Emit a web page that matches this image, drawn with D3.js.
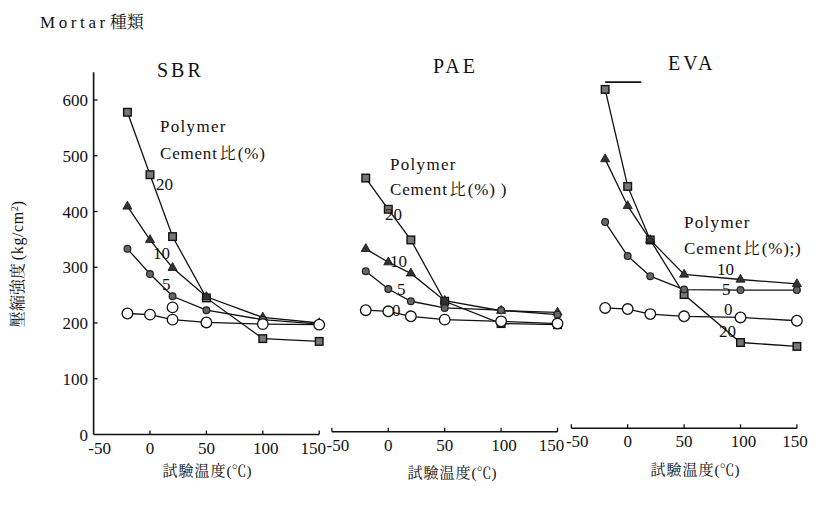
<!DOCTYPE html>
<html>
<head>
<meta charset="utf-8">
<script src="https://cdn.jsdelivr.net/npm/d3@7/dist/d3.min.js"></script>
<style>
  html, body { margin: 0; padding: 0; background: #fff; }
  svg { display: block; }
  text { fill: #111; }
</style>
</head>
<body>
<svg id="chart" width="819" height="505"></svg>
<script>
// ---------------- data ----------------
const panels = ["SBR", "PAE", "EVA"];
const temps = [-20, 0, 20, 50, 100, 150];          // 試験温度 (°C)
const ratios = ["20", "10", "5", "0"];               // Polymer/Cement比 (%)
const xTicks = [-50, 0, 50, 100, 150];
const yTicks = [0, 100, 200, 300, 400, 500, 600];

const sbr20 = [578, 466, 355, 245, 172, 167];
const sbr10 = [409, 349, 299, 247, 210, 200];
const sbr5  = [333, 288, 248, 223, 206, 198];
const sbr0  = [217, 215, 206, 201, 198, 197];
const sbrExtraOpen = [{t: 20, v: 228}];   // isolated open circle in SBR panel

const pae20 = [460, 404, 349, 239, 199, 197];
const pae10 = [333, 309, 289, 240, 222, 219];
const pae5  = [293, 261, 239, 227, 223, 215];
const pae0  = [223, 221, 212, 206, 203, 199];

const eva20 = [619, 445, 349, 251, 165, 158];
const eva10 = [494, 410, 349, 287, 278, 270];
const eva5  = [381, 320, 284, 260, 259, 259];
const eva0  = [227, 225, 216, 212, 210, 204];
const evaStrayLine = [{t: -20, v: 632}, {t: 12, v: 632}];

const seriesByPanel = {
  SBR: {"20": sbr20, "10": sbr10, "5": sbr5, "0": sbr0},
  PAE: {"20": pae20, "10": pae10, "5": pae5, "0": pae0},
  EVA: {"20": eva20, "10": eva10, "5": eva5, "0": eva0}
};
const legendTitle1 = "Polymer";
const legendTitle2 = {SBR: "(%)", PAE: "(%) )", EVA: "(%);)"};

// ---------------- layout ----------------
const svg = d3.select("#chart");
const SERIF = '"Liberation Serif"';
const CJK = '"Noto Serif CJK JP"';
const y = d3.scaleLinear().domain([0, 600]).range([434.5, 100]);
const zeroX = {SBR: 150, PAE: 388.3, EVA: 627.7};
const pxPerDeg = 1.128;
const xScales = {};
panels.forEach(p => {
  xScales[p] = d3.scaleLinear().domain([-50, 150])
    .range([zeroX[p] - 50 * pxPerDeg, zeroX[p] + 150 * pxPerDeg]);
});
const axisDy = {SBR: 0, PAE: -2.8, EVA: -6.2};
const titlePos = {SBR: [157, 77], PAE: [433, 73], EVA: [668, 70]};
const xTitlePos = {SBR: [207, 476], PAE: [452, 478], EVA: [695, 475]};

const labelPos = {
  SBR: {"20": [156, 190], "10": [153, 259], "5": [162, 290]},
  PAE: {"20": [385, 220], "10": [390, 267], "5": [397, 295], "0": [392, 316]},
  EVA: {"10": [717, 275], "5": [722, 295], "0": [724, 315], "20": [719, 337]}
};
const legendPos = {SBR: [160, 132, 159], PAE: [390, 170, 195], EVA: [684, 228, 254]};

const serifText = sel => sel.style("font-family", SERIF);
const cjkText = sel => sel.style("font-family", CJK);

// ---------------- header texts ----------------
const head = svg.append("text").attr("x", 40).attr("y", 27.5).style("font-size", "17px");
serifText(head.append("tspan").text("Mortar").attr("letter-spacing", "3.6"));
cjkText(head.append("tspan").attr("dx", 1).style("font-size", "17px").text("種類"));

// Y axis label (vertical)
const yl = svg.append("text")
  .attr("transform", "translate(23,264) rotate(-90)")
  .attr("text-anchor", "middle")
  .style("font-size", "16px");
cjkText(yl.append("tspan").text("壓縮強度"));
serifText(yl.append("tspan").attr("dx", 3).attr("letter-spacing", "0.6").text("(kg/cm"));
serifText(yl.append("tspan").attr("baseline-shift", "super").style("font-size", "10px").text("2"));
serifText(yl.append("tspan").text(")"));

// Y axis (panel 1 only)
const yAxisX = xScales.SBR(-50);
svg.append("line").attr("x1", yAxisX).attr("x2", yAxisX)
  .attr("y1", y(0)).attr("y2", y(650))
  .attr("stroke", "#111").attr("stroke-width", 1.6);
svg.selectAll(".ytick").data(yTicks.filter(d => d > 0)).join("line")
  .attr("x1", yAxisX).attr("x2", yAxisX + 4)
  .attr("y1", d => y(d)).attr("y2", d => y(d))
  .attr("stroke", "#111").attr("stroke-width", 1.3);
serifText(svg.selectAll(".ylab").data(yTicks).join("text"))
  .attr("x", 88).attr("y", d => y(d) + 6)
  .attr("text-anchor", "end").style("font-size", "17px")
  .text(d => d);

// ---------------- panels ----------------
const lineGen = x => d3.line().x(d => x(d.t)).y(d => y(d.v));

panels.forEach(p => {
  const x = xScales[p];
  const g = svg.append("g");
  const dy = axisDy[p];
  const base = y(0) + dy;

  // x axis
  g.append("line").attr("x1", x(-50)).attr("x2", x(150))
    .attr("y1", base).attr("y2", base).attr("stroke", "#111").attr("stroke-width", 1.4);
  const tickVals = p === "SBR" ? [0, 50, 100, 150] : [-50, 0, 50, 100, 150];
  g.selectAll(".xt").data(tickVals).join("line")
    .attr("x1", d => x(d)).attr("x2", d => x(d))
    .attr("y1", base).attr("y2", base - 4)
    .attr("stroke", "#111").attr("stroke-width", 1.3);
  serifText(g.selectAll(".xl").data(xTicks).join("text"))
    .attr("x", d => x(d) + (d === -50 ? 6 : d === 150 ? (p === "EVA" ? -2 : -6) : (d === 100 ? 3 : 0)))
    .attr("y", base + 19)
    .attr("text-anchor", "middle").style("font-size", "17px")
    .text(d => d);

  // x title
  const xt = g.append("text")
    .attr("x", xTitlePos[p][0]).attr("y", xTitlePos[p][1])
    .attr("text-anchor", "middle").style("font-size", "15px");
  cjkText(xt.append("tspan").attr("letter-spacing", "1").text("試驗温度"));
  serifText(xt.append("tspan").text("("));
  cjkText(xt.append("tspan").text("℃"));
  serifText(xt.append("tspan").text(")"));

  // panel title
  serifText(g.append("text")).attr("x", titlePos[p][0]).attr("y", titlePos[p][1])
    .style("font-size", "20px").attr("letter-spacing", "3")
    .text(p);

  // series lines
  const ser = seriesByPanel[p];
  ratios.forEach(r => {
    const pts = temps.map((t, i) => ({t, v: ser[r][i]}));
    g.append("path").datum(pts)
      .attr("d", lineGen(x))
      .attr("fill", "none").attr("stroke", "#111").attr("stroke-width", 1.3);
  });
  if (p === "EVA") {
    g.append("path").datum(evaStrayLine).attr("d", lineGen(x))
      .attr("fill", "none").attr("stroke", "#111").attr("stroke-width", 1.6);
  }

  // markers
  ratios.forEach(r => {
    const pts = temps.map((t, i) => ({t, v: ser[r][i]}));
    if (r === "20") {
      g.selectAll(null).data(pts).join("rect")
        .attr("x", d => x(d.t) - 3.8).attr("y", d => y(d.v) - 3.8)
        .attr("width", 7.6).attr("height", 7.6)
        .attr("fill", "#777").attr("stroke", "#111").attr("stroke-width", 1.4);
    } else if (r === "10") {
      g.selectAll(null).data(pts).join("path")
        .attr("transform", d => `translate(${x(d.t)},${y(d.v)})`)
        .attr("d", d3.symbol(d3.symbolTriangle, 36)())
        .attr("fill", "#333").attr("stroke", "#111").attr("stroke-width", 0.8);
    } else if (r === "5") {
      g.selectAll(null).data(pts).join("circle")
        .attr("cx", d => x(d.t)).attr("cy", d => y(d.v)).attr("r", 3.4)
        .attr("fill", "#666").attr("stroke", "#222").attr("stroke-width", 1.2);
    } else {
      const all = p === "SBR" ? pts.concat(sbrExtraOpen) : pts;
      g.selectAll(null).data(all).join("circle")
        .attr("cx", d => x(d.t)).attr("cy", d => y(d.v)).attr("r", 5.3)
        .attr("fill", "#fff").attr("stroke", "#111").attr("stroke-width", 1.3);
    }
  });

  // legend captions
  const lp = legendPos[p];
  serifText(g.append("text")).attr("x", lp[0]).attr("y", lp[1])
    .style("font-size", "17px").attr("letter-spacing", "1.3").text(legendTitle1);
  const l2 = g.append("text").attr("x", lp[0]).attr("y", lp[2]).style("font-size", "17px");
  serifText(l2.append("tspan").attr("letter-spacing", "0.8").text("Cement"));
  cjkText(l2.append("tspan").attr("dx", 2).style("font-size", "16px").text("比"));
  serifText(l2.append("tspan").attr("dx", 2).attr("letter-spacing", "0.8").text(legendTitle2[p]));

  // ratio labels
  Object.entries(labelPos[p]).forEach(([r, pos]) => {
    serifText(g.append("text")).attr("x", pos[0]).attr("y", pos[1])
      .style("font-size", "17px").text(r);
  });
});
</script>
</body>
</html>
